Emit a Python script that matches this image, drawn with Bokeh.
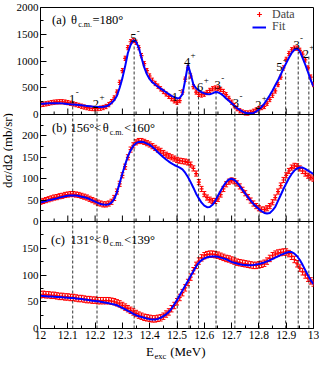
import math
from bokeh.plotting import figure
from bokeh.models import (Range1d, FixedTicker, Label, Span, Whisker, TeeHead,
                          ColumnDataSource, Legend, LegendItem)
from bokeh.layouts import column, row
from bokeh.embed import file_html
from bokeh.resources import INLINE
from bokeh.core.properties import value

# ---------------- data ----------------
E = [round(12.0 + 0.01 * i, 2) for i in range(101)]

data_a = [185, 190, 200, 210, 222, 230, 235, 238, 238, 232,
          222, 210, 198, 185, 170, 155, 140, 128, 118, 112,
          110, 112, 118, 130, 150, 185, 240, 310, 420, 600,
          820, 1050, 1250, 1360, 1380, 1350, 1250, 1100, 950, 820,
          720, 640, 580, 530, 480, 430, 385, 340, 295, 255,
          230, 260, 420, 660, 870, 720, 520, 420, 375, 365,
          380, 410, 450, 480, 495, 490, 470, 430, 370, 300,
          230, 165, 110, 70, 45, 30, 28, 40, 60, 85,
          110, 130, 150, 210, 280, 360, 440, 560, 700, 870,
          1030, 1140, 1210, 1240, 1240, 1200, 1130, 1020, 870, 700,
          560]
fit_a = [200, 203, 206, 209, 211, 212, 212, 212, 208, 203,
         197, 192, 188, 183, 178, 172, 166, 160, 154, 148,
         144, 142, 141, 143, 153, 172, 215, 265, 350, 500,
         680, 900, 1150, 1300, 1390, 1360, 1250, 1060, 880, 750,
         660, 600, 560, 520, 484, 450, 415, 380, 350, 325,
         305, 310, 380, 640, 930, 760, 560, 490, 450, 415,
         395, 382, 380, 395, 420, 415, 390, 350, 300, 255,
         212, 165, 120, 85, 55, 32, 22, 22, 30, 55,
         95, 145, 205, 280, 360, 450, 545, 640, 745, 860,
         960, 1060, 1150, 1210, 1235, 1180, 1060, 930, 790, 640,
         525]
err_a = 40

data_b = [46, 48, 50, 52, 54, 56, 57, 59, 60, 62,
          63, 64, 64, 63, 62, 60, 58, 56, 53, 50,
          47, 44, 42, 40, 40, 42, 46, 55, 70, 88,
          108, 128, 150, 168, 178, 185, 188, 188, 186, 183,
          180, 176, 172, 168, 165, 160, 156, 153, 150, 147,
          144, 142, 141, 140, 138, 133, 124, 112, 92, 76,
          64, 56, 51, 48, 48, 53, 63, 76, 87, 93,
          96, 94, 89, 82, 74, 66, 57, 49, 42, 36,
          31, 28, 28, 31, 36, 45, 56, 70, 84, 97,
          108, 118, 126, 130, 129, 124, 118, 112, 107, 103,
          100]
fit_b = [44, 46, 48, 49.5, 51, 52.5, 54, 56, 57.5, 59,
         60, 60.5, 61, 60.5, 59.5, 58, 56.5, 55, 52.5, 49.5,
         46.5, 43.5, 41, 39.5, 39, 40, 44, 52, 68, 90,
         112, 133, 152, 166, 177, 183, 186, 186.5, 185, 182,
         179, 174, 168, 162, 156, 150, 145, 140, 136, 132,
         129, 126, 122, 114, 104, 92, 79, 65, 54, 44,
         37, 33.5, 34, 39, 48, 60, 72, 83, 92, 98,
         100, 97, 91, 83, 74, 65, 57, 49, 41, 35,
         29, 24, 20, 18.5, 20, 26, 34, 48, 62, 76,
         89, 101, 111, 119, 124, 126, 126, 123, 119, 115,
         111]
err_b = 6

data_c = [63, 64, 63, 63, 62, 62, 61, 60, 60, 59,
          59, 58, 58, 57, 56, 56, 55, 54, 54, 53,
          53, 52, 52, 52, 52, 52, 51, 50, 48, 46,
          43, 40, 37, 34, 31, 28, 25, 23, 21, 20,
          19, 18, 18, 19, 20, 23, 27, 31, 37, 43,
          50, 58, 67, 76, 86, 96, 108, 118, 126, 132,
          136, 138, 139, 139, 138, 137, 135, 133, 131, 130,
          128, 126, 124, 123, 122, 121, 120, 119, 118, 118,
          119, 120, 122, 126, 131, 136, 139, 141, 142, 143,
          143, 140, 135, 129, 121, 113, 106, 100, 94, 89,
          85]
fit_c = [61, 60.7, 60.4, 60, 59.7, 59.4, 59, 58.7, 58.3, 58,
         57.6, 57.2, 56.8, 56.2, 55.6, 55, 54.3, 53.6, 52.8, 52,
         51.4, 50.8, 50, 49, 48, 47, 46, 45, 43.5, 41,
         38.5, 36, 33, 30.5, 27.5, 25, 23, 21.5, 20, 18.5,
         17.5, 17, 17, 18, 20, 23, 26.5, 31, 37, 45,
         53, 62, 71, 80, 89, 98, 107, 116, 123, 128,
         131, 133, 134, 134.5, 134.5, 134, 132.5, 131, 129.5, 127,
         124.5, 123, 121.5, 120, 119, 118.5, 118, 118, 118.5, 119.5,
         120.5, 122, 123.5, 125.5, 127.5, 130, 132.5, 135, 137.5, 139.5,
         141.5, 143, 143, 140, 135, 128, 119, 109, 99, 90,
         83]
err_c = 6

# resonances
res_E = [12.118, 12.207, 12.343, 12.501, 12.544, 12.579,
         12.643, 12.712, 12.801, 12.898, 12.944, 12.983]
res_J = ["1", "2", "5", "1", "4", "6", "3", "3", "2", "5", "3", "2"]
res_P = ["-", "+", "-", "-", "+", "+", "-", "-", "+", "-", "-", "+"]
# annotation anchors (panel a): label centre x, label baseline y, line top
lab_x = [12.116, 12.203, 12.340, 12.492, 12.537, 12.585,
         12.649, 12.716, 12.798, 12.875, 12.938, 12.972]
lab_y = [283, 195, 1434, 319, 979, 513, 549, 212, 177, 885, 1292, 1133]
line_top = [260, 150, 1300, 290, 870, 470, 480, 180, 140, 780, 1230, 1100]

x_ticks = [12.0, 12.1, 12.2, 12.3, 12.4, 12.5, 12.6, 12.7, 12.8, 12.9, 13.0]
x_tick_labels = ["12", "12.1", "12.2", "12.3", "12.4", "12.5",
                 "12.6", "12.7", "12.8", "12.9", "13"]
x_minor = [12.05, 12.15, 12.25, 12.35, 12.45, 12.55, 12.65, 12.75, 12.85, 12.95]

ya_ticks = [0, 500, 1000, 1500, 2000]
ya_minor = [250, 750, 1250, 1750]
yb_ticks = [0, 50, 100, 150, 200]
yb_minor = [25, 75, 125, 175, 225]
yc_ticks = [0, 50, 100, 150]
yc_minor = [25, 75, 125, 175]

# ---------------- style / layout ----------------
FONT = "Liberation Serif"
RED = "#ff0000"
BLUE = "#0000ff"
FW, PH = 273, 107          # frame width, height of one panel (px)
NP = 3
YMAX = {"a": 2000, "b": 250, "c": 200}
SLOT = {"a": 2, "b": 1, "c": 0}   # panel slot, counted from the bottom

fig = figure(frame_width=FW, frame_height=PH * NP, x_range=Range1d(12, 13),
             y_range=Range1d(0, NP), output_backend="svg", toolbar_location=None,
             min_border_left=24, min_border_right=6, min_border_top=7,
             min_border_bottom=0)
fig.extra_y_ranges = {k: Range1d(-SLOT[k] * YMAX[k], (NP - SLOT[k]) * YMAX[k])
                      for k in YMAX}
fig.xgrid.visible = False
fig.ygrid.visible = False
fig.outline_line_color = "black"
fig.outline_line_alpha = 1
fig.outline_line_width = 1

# y axis: one axis carrying the three panels' ticks
ymaj, ymin, yover = [], [], {}
for k, maj, mnr in (("c", yc_ticks, yc_minor), ("b", yb_ticks, yb_minor),
                    ("a", ya_ticks, ya_minor)):
    for v in maj:
        pos = round(SLOT[k] + v / YMAX[k], 6)
        ymaj.append(pos)
        yover[pos] = str(v)
    for v in mnr:
        ymin.append(round(SLOT[k] + v / YMAX[k], 6))
for ax in (fig.xaxis[0], fig.yaxis[0]):
    ax.axis_line_color = "black"
    ax.major_tick_in = 6
    ax.major_tick_out = 0
    ax.minor_tick_in = 3
    ax.minor_tick_out = 0
    ax.major_tick_line_color = "black"
    ax.minor_tick_line_color = "black"
    ax.major_label_text_font = FONT
    ax.major_label_text_color = "black"
    ax.major_label_standoff = 2
fig.yaxis.ticker = FixedTicker(ticks=ymaj, minor_ticks=ymin)
fig.yaxis.major_label_overrides = yover
fig.yaxis.major_label_text_font_size = "11px"
fig.xaxis.ticker = FixedTicker(ticks=x_ticks, minor_ticks=x_minor)
fig.xaxis.major_label_overrides = dict(zip(x_ticks, x_tick_labels))
fig.xaxis.major_label_text_font_size = "11.5px"

# panel separators and inward x ticks on the inner panel bottoms
for s in (1, 2):
    fig.add_layout(Span(location=s, dimension="width", line_color="black",
                        line_width=1))
    fig.segment(x0=x_ticks, y0=[s] * len(x_ticks), x1=x_ticks,
                y1=[s + 6 / PH] * len(x_ticks), line_color="black", line_width=1)
    fig.segment(x0=x_minor, y0=[s] * len(x_minor), x1=x_minor,
                y1=[s + 3 / PH] * len(x_minor), line_color="black", line_width=1)

# resonance lines
fig.segment(x0=res_E, y0=[0] * len(res_E), x1=res_E, y1=line_top, y_range_name="a",
            line_color="black", line_width=0.8, line_dash="3 2")
for k in ("b", "c"):
    fig.segment(x0=res_E, y0=[0] * len(res_E), x1=res_E, y1=[YMAX[k]] * len(res_E),
                y_range_name=k, line_color="black", line_width=0.8, line_dash="3 2")


def draw_data(k, y, err, fit, cap):
    src = ColumnDataSource(dict(x=E, y=y,
                                lo=[v - err for v in y], hi=[v + err for v in y]))
    w = Whisker(source=src, base="x", upper="hi", lower="lo", dimension="height",
                y_range_name=k, line_color=RED, line_width=1,
                upper_head=TeeHead(size=cap, line_color=RED, line_width=1),
                lower_head=TeeHead(size=cap, line_color=RED, line_width=1))
    fig.add_layout(w)
    r_d = fig.scatter("x", "y", source=src, y_range_name=k, marker="cross", size=4,
                      line_color=RED, fill_color=RED, line_width=1.2)
    r_f = fig.line(E, fit, y_range_name=k, line_color=BLUE, line_width=2)
    return r_d, r_f


rd, rf = draw_data("a", data_a, err_a, fit_a, 3)
draw_data("b", data_b, err_b, fit_b, 4)
draw_data("c", data_c, err_c, fit_c, 4)

# spin-parity labels
lab_src = ColumnDataSource(dict(x=lab_x, y=lab_y, j=res_J, s=res_P))
fig.text(x="x", y="y", text="j", source=lab_src, y_range_name="a",
         text_font=value(FONT), text_font_size=value("12.5px"), text_align="center",
         text_baseline="alphabetic", text_color="black")
fig.text(x="x", y="y", text="s", source=lab_src, y_range_name="a", x_offset=3.5,
         y_offset=-7, text_font=value(FONT), text_font_size=value("9px"),
         text_align="left", text_baseline="alphabetic", text_color="black")


def add_text(p, x, y, text, size, align="left", angle=0.0):
    p.add_layout(Label(x=x, y=y, x_units="screen", y_units="screen", text=text,
                       text_font=FONT, text_font_size=size, text_color="black",
                       text_align=align, text_baseline="middle", angle=angle))


TOP = PH * NP
# panel (a)
ya = TOP - 12.3
add_text(fig, 11.5, ya, "(a)", "12.5px")
add_text(fig, 30.5, ya, "θ", "12.5px")
add_text(fig, 37.7, ya - 4.8, "c.m.", "8px")
add_text(fig, 52.0, ya, "=180°", "12.5px")
# panel (b)
yb = 2 * PH - 13.7
add_text(fig, 11.5, yb, "(b)", "12.5px")
add_text(fig, 30.0, yb, "156°<", "12.5px")
add_text(fig, 62.3, yb, "θ", "12.5px")
add_text(fig, 69.2, yb - 3.8, "c.m.", "8px")
add_text(fig, 83.7, yb, "<160°", "12.5px")
# panel (c)
yc = PH - 18.0
add_text(fig, 10.5, yc, "(c)", "12.5px")
add_text(fig, 30.0, yc, "131°<", "12.5px")
add_text(fig, 62.3, yc, "θ", "12.5px")
add_text(fig, 69.2, yc - 3.5, "c.m.", "8px")
add_text(fig, 83.7, yc, "<139°", "12.5px")

# legend: one entry per box so that the vertical pitch can be set
for lab, rr, dy in (("Data", rd, 14.5), ("Fit", rf, 27.0)):
    fig.add_layout(Legend(items=[LegendItem(label=lab, renderers=[rr])],
                          location=(212, TOP - dy), orientation="vertical",
                          label_text_font=FONT, label_text_font_size="12px",
                          glyph_width=14, glyph_height=12, label_height=12,
                          label_standoff=6, spacing=0, padding=0, margin=0,
                          border_line_alpha=0, background_fill_alpha=0))

# y-axis title (own narrow strip) and x-axis title (own strip)
FIG_H = 343
yfig = figure(width=13, height=FIG_H, x_range=Range1d(0, 1), y_range=Range1d(0, 1),
              min_border=0, x_axis_location=None, y_axis_location=None,
              toolbar_location=None, output_backend="svg")
yfig.grid.visible = False
yfig.outline_line_color = None
add_text(yfig, 6.5, 180, "dσ/dΩ (mb/sr)", "13px", align="center", angle=math.pi / 2)

xfig = figure(width=316, height=17, x_range=Range1d(0, 1), y_range=Range1d(0, 1),
              min_border=0, x_axis_location=None, y_axis_location=None,
              toolbar_location=None, output_backend="svg")
xfig.grid.visible = False
xfig.outline_line_color = None
add_text(xfig, 145.4, 9.5, "E", "13px")
add_text(xfig, 154.0, 5.0, "exc", "8.5px")
add_text(xfig, 169.7, 9.5, "(MeV)", "13px")

layout = column(row(yfig, fig, spacing=0), xfig, spacing=0)
open("out.html", "w").write(file_html(layout, INLINE))
